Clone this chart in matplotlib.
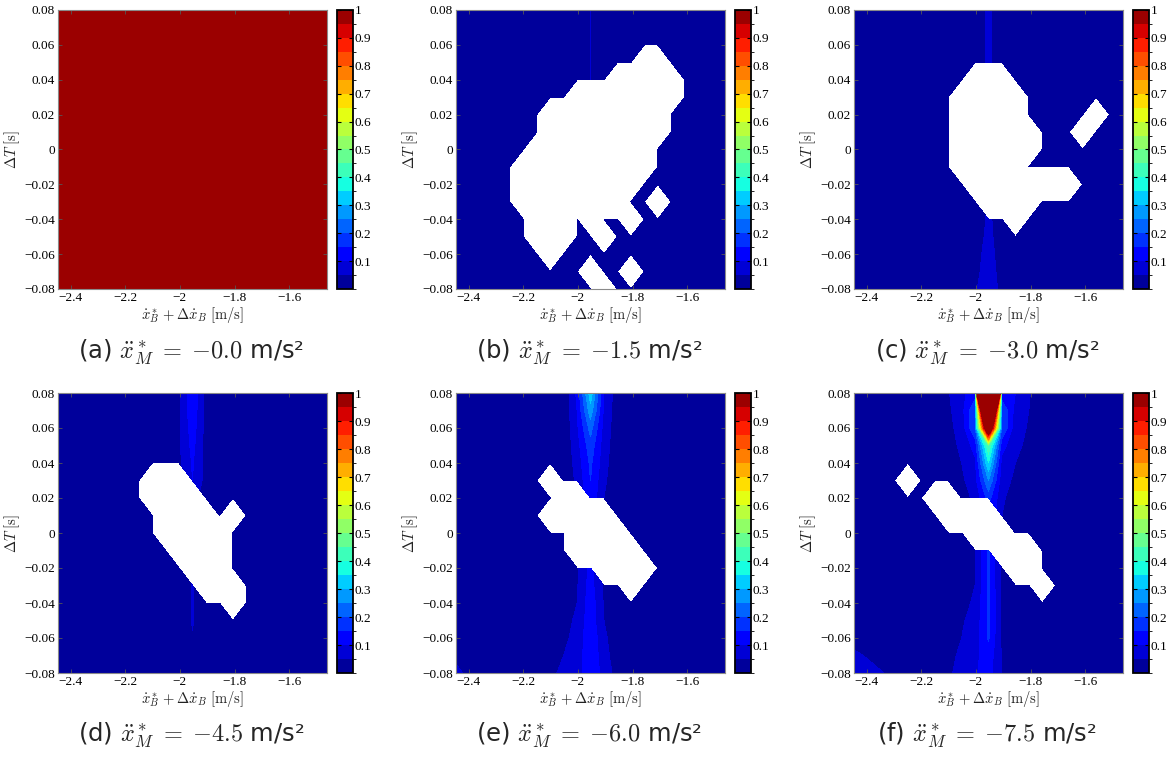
import numpy as np
import matplotlib
matplotlib.use("Agg")
import matplotlib.pyplot as plt
from matplotlib.colors import ListedColormap, BoundaryNorm
from matplotlib.ticker import FuncFormatter

plt.rcParams["mathtext.fontset"] = "cm"
plt.rcParams["font.family"] = "Liberation Serif"

# sweep grid
x_grid = np.linspace(-2.446, -1.462, 21)   # x_B* + dx_B [m/s]
y_grid = np.linspace(-0.08, 0.08, 17)      # dT [s]

panel_letters = ["a", "b", "c", "d", "e", "f"]
accel_labels = ["-0.0", "-1.5", "-3.0", "-4.5", "-6.0", "-7.5"]
base_values = [0.99, 0.01, 0.01, 0.01, 0.01, 0.01]

# no-solution maps ('#' = NaN), first row is dT = 0.08, last row dT = -0.08
mask_a = ["....................."] * 17
mask_b = [
    ".....................",
    ".....................",
    ".....................",
    "..............##.....",
    "............#####....",
    ".........########....",
    ".......#########.....",
    ".......#########.....",
    "......#########......",
    ".....##########......",
    ".....#########.......",
    ".....########..#.....",
    "......###.#..#.......",
    "......###..#.........",
    ".......#.............",
    "..........#..#.......",
    "...........#.........",
]
mask_c = [
    ".....................",
    ".....................",
    ".....................",
    ".....................",
    ".........###.........",
    "........#####........",
    "........#####.....#..",
    "........######...#...",
    "........######.......",
    "........#####........",
    ".........########....",
    "..........####.......",
    "............#........",
    ".....................",
    ".....................",
    ".....................",
    ".....................",
]
mask_d = [
    ".....................",
    ".....................",
    ".....................",
    ".....................",
    ".....................",
    ".......###...........",
    ".......####..........",
    "........####.#.......",
    "........#####........",
    ".........####........",
    "..........###........",
    "...........###.......",
    ".............#.......",
    ".....................",
    ".....................",
    ".....................",
    ".....................",
]
mask_e = [
    ".....................",
    ".....................",
    ".....................",
    ".....................",
    ".....................",
    ".......#.............",
    "........##...........",
    ".......#####.........",
    ".........####........",
    ".........#####.......",
    "...........####......",
    ".............#.......",
    ".....................",
    ".....................",
    ".....................",
    ".....................",
    ".....................",
]
mask_f = [
    ".....................",
    ".....................",
    ".....................",
    ".....................",
    ".....................",
    "....#................",
    "......##.............",
    ".......####..........",
    ".........###.........",
    "...........###.......",
    "............##.......",
    "..............#......",
    ".....................",
    ".....................",
    ".....................",
    ".....................",
    ".....................",
]

# columns that differ from the background, values from dT = -0.08 up to 0.08
cols_a = {}
cols_b = {
    10: [0.01, 0.01, 0.01, 0.01, 0.01, 0.01, 0.01, 0.01, 0.01, 0.01, 0.01, 0.01, 0.052, 0.052, 0.052, 0.052, 0.052],
}
cols_c = {
    9: [0.044, 0.035, 0.03, 0.02, 0.01, 0.01, 0.01, 0.01, 0.01, 0.01, 0.01, 0.01, 0.01, 0.02, 0.02, 0.02, 0.02],
    10: [0.08, 0.075, 0.07, 0.065, 0.06, 0.01, 0.01, 0.01, 0.01, 0.01, 0.01, 0.01, 0.01, 0.06, 0.06, 0.06, 0.06],
    11: [0.035, 0.03, 0.025, 0.02, 0.02, 0.01, 0.01, 0.01, 0.01, 0.01, 0.01, 0.01, 0.01, 0.02, 0.02, 0.02, 0.02],
}
cols_d = {
    9: [0.01, 0.01, 0.01, 0.01, 0.01, 0.01, 0.01, 0.01, 0.01, 0.01, 0.01, 0.01, 0.04, 0.04, 0.04, 0.04, 0.04],
    10: [0.01, 0.03, 0.048, 0.053, 0.054, 0.055, 0.01, 0.01, 0.01, 0.01, 0.01, 0.1, 0.105, 0.115, 0.125, 0.135, 0.14],
    11: [0.01, 0.01, 0.01, 0.01, 0.01, 0.01, 0.01, 0.01, 0.01, 0.01, 0.01, 0.03, 0.03, 0.03, 0.03, 0.03, 0.03],
}
cols_e = {
    0: [0.09, 0.01, 0.01, 0.01, 0.01, 0.01, 0.01, 0.01, 0.01, 0.01, 0.01, 0.01, 0.01, 0.01, 0.01, 0.01, 0.01],
    7: [0.04, 0.01, 0.01, 0.01, 0.01, 0.01, 0.01, 0.01, 0.01, 0.01, 0.01, 0.01, 0.01, 0.01, 0.01, 0.01, 0.01],
    8: [0.06, 0.05, 0.04, 0.03, 0.02, 0.02, 0.02, 0.02, 0.02, 0.02, 0.02, 0.01, 0.01, 0.01, 0.01, 0.01, 0.01],
    9: [0.075, 0.07, 0.065, 0.06, 0.05, 0.045, 0.04, 0.04, 0.04, 0.04, 0.04, 0.06, 0.07, 0.08, 0.09, 0.1, 0.11],
    10: [0.14, 0.14, 0.14, 0.13, 0.13, 0.12, 0.12, 0.1, 0.1, 0.1, 0.14, 0.15, 0.16, 0.18, 0.22, 0.28, 0.33],
    11: [0.08, 0.07, 0.06, 0.05, 0.045, 0.04, 0.03, 0.03, 0.03, 0.03, 0.05, 0.06, 0.07, 0.075, 0.08, 0.09, 0.1],
    12: [0.03, 0.02, 0.02, 0.02, 0.02, 0.02, 0.02, 0.02, 0.02, 0.02, 0.02, 0.01, 0.01, 0.015, 0.02, 0.02, 0.02],
}
cols_f = {
    0: [0.08, 0.06, 0.03, 0.01, 0.01, 0.01, 0.01, 0.01, 0.01, 0.01, 0.01, 0.01, 0.01, 0.01, 0.01, 0.01, 0.01],
    1: [0.07, 0.045, 0.01, 0.01, 0.01, 0.01, 0.01, 0.01, 0.01, 0.01, 0.01, 0.01, 0.01, 0.01, 0.01, 0.01, 0.01],
    2: [0.055, 0.02, 0.01, 0.01, 0.01, 0.01, 0.01, 0.01, 0.01, 0.01, 0.01, 0.01, 0.01, 0.01, 0.01, 0.01, 0.01],
    3: [0.03, 0.01, 0.01, 0.01, 0.01, 0.01, 0.01, 0.01, 0.01, 0.01, 0.01, 0.01, 0.01, 0.01, 0.01, 0.01, 0.01],
    7: [0.04, 0.035, 0.02, 0.02, 0.02, 0.02, 0.02, 0.02, 0.02, 0.02, 0.02, 0.02, 0.02, 0.03, 0.035, 0.04, 0.045],
    8: [0.07, 0.06, 0.05, 0.045, 0.04, 0.03, 0.03, 0.03, 0.03, 0.03, 0.03, 0.04, 0.05, 0.06, 0.07, 0.08, 0.09],
    9: [0.095, 0.085, 0.075, 0.065, 0.055, 0.05, 0.05, 0.045, 0.04, 0.04, 0.06, 0.08, 0.09, 0.12, 0.2, 0.2, 0.12],
    10: [0.12, 0.13, 0.155, 0.16, 0.16, 0.16, 0.16, 0.16, 0.1, 0.1, 0.17, 0.25, 0.35, 0.45, 1.27, 2.0, 7.0],
    11: [0.045, 0.045, 0.04, 0.04, 0.04, 0.035, 0.035, 0.03, 0.03, 0.05, 0.06, 0.07, 0.08, 0.12, 0.2, 0.2, 0.11],
    12: [0.02, 0.02, 0.02, 0.02, 0.02, 0.02, 0.02, 0.02, 0.02, 0.02, 0.02, 0.04, 0.05, 0.06, 0.07, 0.08, 0.1],
    13: [0.01, 0.01, 0.01, 0.01, 0.01, 0.01, 0.01, 0.01, 0.01, 0.01, 0.01, 0.03, 0.035, 0.04, 0.045, 0.05, 0.055],
}

masks = [mask_a, mask_b, mask_c, mask_d, mask_e, mask_f]
columns = [cols_a, cols_b, cols_c, cols_d, cols_e, cols_f]

cbar_ticks = [0.1, 0.2, 0.3, 0.4, 0.5, 0.6, 0.7, 0.8, 0.9, 1.0]
cbar_labels = ["0.1", "0.2", "0.3", "0.4", "0.5", "0.6", "0.7", "0.8", "0.9", "1"]


def build_field(base, mask_rows, cols):
    z = np.full((len(y_grid), len(x_grid)), base)
    for i, vals in cols.items():
        z[:, i] = vals
    nan_map = np.array([[ch == "#" for ch in row] for row in mask_rows[::-1]])
    return np.ma.masked_array(z, nan_map)


levels = np.linspace(0, 1, 21)
jet20 = plt.cm.jet((np.arange(20) + 0.5) / 20)
cmap = ListedColormap(jet20)
cmap.set_over(jet20[-1])

W, H = 1176, 757
fig = plt.figure(figsize=(W / 100, H / 100), dpi=100)


def px_axes(left, top, width, height):
    return fig.add_axes([left / W, 1 - (top + height) / H, width / W, height / H])


def fmt(v, pos):
    return ("%g" % v).replace("-", "\u2212")


col_left = [58, 456, 854]
row_top = [10, 393]
row_h = [279, 280]
caption_y = [352, 735]

for k in range(6):
    r, c = divmod(k, 3)
    norm = BoundaryNorm(levels, 20)
    ax = px_axes(col_left[c], row_top[r], 269, row_h[r])
    z = build_field(base_values[k], masks[k], columns[k])
    ax.contourf(x_grid, y_grid, z, levels=levels, cmap=cmap, norm=norm, extend="max")
    ax.set_xlim(x_grid[0], x_grid[-1])
    ax.set_ylim(y_grid[0], y_grid[-1])
    ax.set_xticks([-2.4, -2.2, -2.0, -1.8, -1.6])
    ax.set_yticks([-0.08, -0.06, -0.04, -0.02, 0, 0.02, 0.04, 0.06, 0.08])
    ax.xaxis.set_major_formatter(FuncFormatter(fmt))
    ax.yaxis.set_major_formatter(FuncFormatter(fmt))
    ax.tick_params(direction="in", length=3, width=0.6, color="#555555",
                   labelsize=9.5, pad=2, top=True, right=True)
    for s in ax.spines.values():
        s.set_color("#8a8a8a")
        s.set_linewidth(0.8)
    ax.set_xlabel(r"$\dot{x}_B^* + \Delta\dot{x}_B\ \mathrm{[m/s]}$", fontsize=10.5, labelpad=1, color="#222222")
    ax.set_ylabel(r"$\Delta T\ \mathrm{[s]}$", fontsize=10.5, labelpad=2, color="#222222")

    cax = px_axes(col_left[c] + 279, row_top[r], 16, row_h[r])
    sm = plt.cm.ScalarMappable(norm=BoundaryNorm(levels, 20), cmap=cmap)
    cb = fig.colorbar(sm, cax=cax)
    cb.set_ticks(cbar_ticks)
    cb.set_ticklabels(cbar_labels)
    cb.ax.tick_params(direction="in", length=3, width=0.8, labelsize=9.5, pad=1,
                      left=True, right=True)
    cb.outline.set_linewidth(1.3)
    cb.outline.set_edgecolor("black")

    fig.text((col_left[c] + 133) / W, 1 - caption_y[r] / H,
             "(%s) $\\ddot{x}_M^*\\;=\\;{%s}$ m/s\u00b2" % (panel_letters[k], accel_labels[k]),
             ha="center", va="center", fontsize=17.5, family="DejaVu Sans", color="#262626")

fig.savefig("out.png", dpi=100)
